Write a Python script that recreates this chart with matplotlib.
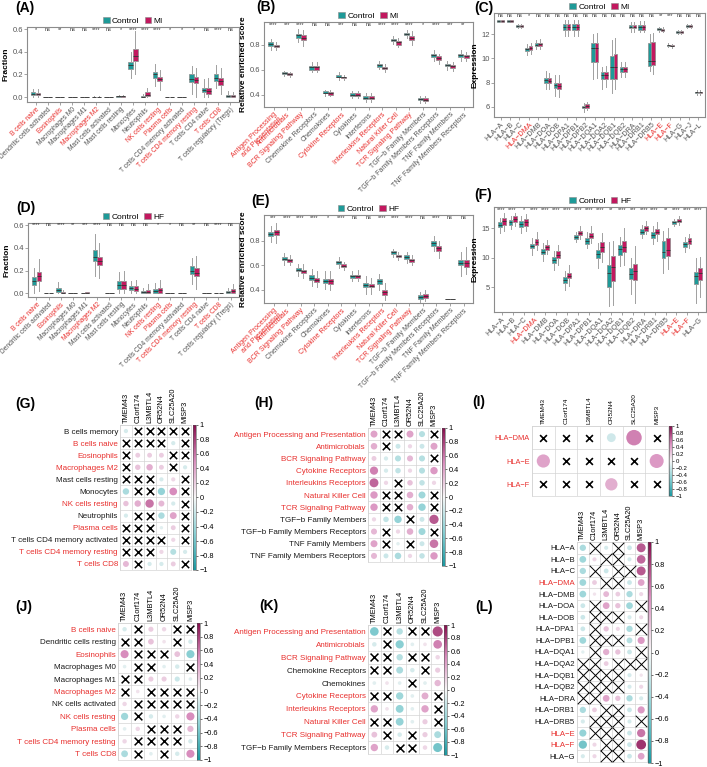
import numpy as np
import matplotlib
matplotlib.use("Agg")
import matplotlib.pyplot as plt
from matplotlib.patches import Patch
from matplotlib.colors import LinearSegmentedColormap, Normalize
from matplotlib.cm import ScalarMappable

plt.rcParams['font.family'] = ['Liberation Sans', 'DejaVu Sans']

W, H = 707, 767
CTRL = "#1E9A98"
DIS = "#C2185F"
RED = "#E8302E"
EDGE = "#8a8a8a"
CMAP = LinearSegmentedColormap.from_list(
    "corr", ["#1A98A0", "#8ACFD3", "#F7F7F7", "#D98FBE", "#850C4C"])
X = np.nan

# ---------------- box plot data: (whisker lo, q1, median, q3, whisker hi)
IMMUNE = ["B cells naive", "Dendritic cells activated", "Eosinophils", "Macrophages M0",
          "Macrophages M1", "Macrophages M2", "Mast cells activated", "Mast cells resting",
          "Monocytes", "Neutrophils", "NK cells resting", "Plasma cells",
          "T cells CD4 memory activated", "T cells CD4 memory resting",
          "T cells CD4 naive", "T cells CD8", "T cells regulatory (Tregs)"]
IMMUNE_RED = [0, 2, 5, 10, 11, 13, 15]

A_ctrl = [(0, .02, .03, .04, .07), (0, 0, 0, .001, .002), (0, 0, 0, .001, .002),
          (0, 0, 0, .001, .002), (0, 0, 0, .001, .002), (0, .001, .002, .003, .005),
          (0, 0, 0, .001, .002), (0, .003, .006, .01, .015), (.17, .25, .28, .31, .40),
          (0, -.002, .003, .012, .03), (.10, .17, .20, .22, .29), (0, 0, 0, .001, .002),
          (0, 0, 0, .001, .002), (.03, .13, .16, .20, .27), (0, .04, .06, .08, .16),
          (.08, .14, .17, .20, .28), (0, .0, .01, .02, .05)]
A_dis = [(0, .015, .025, .035, .07), (0, 0, 0, .001, .002), (0, 0, 0, .001, .002),
         (0, 0, 0, .001, .002), (0, 0, 0, .001, .002), (0, .001, .002, .003, .005),
         (0, 0, 0, .001, .002), (0, .004, .008, .012, .02), (.20, .32, .36, .42, .58),
         (0, .01, .02, .04, .08), (.06, .14, .16, .18, .24), (0, 0, 0, .001, .002),
         (0, 0, 0, .001, .002), (0, .12, .15, .18, .26), (0, .03, .05, .08, .17),
         (.03, .11, .14, .17, .26), (0, .0, .01, .02, .04)]
A_sig = ["*", "ns", "**", "ns", "ns", "****", "ns", "*", "****", "****", "****", "*",
         "*", "*", "ns", "****", "ns"]

D_ctrl = [(0, .07, .11, .14, .22), (0, 0, 0, .001, .002), (0, .015, .03, .045, .10),
          (0, 0, 0, .001, .002), (0, 0, 0, .001, .003), (.15, .28, .32, .38, .52),
          (0, 0, 0, .001, .002), (0, .04, .07, .11, .19), (0, .03, .05, .065, .11),
          (0, 0, .01, .02, .05), (0, 0, .02, .04, .09), (0, 0, 0, .001, .002),
          (0, 0, 0, .001, .002), (.08, .17, .20, .24, .31), (0, 0, 0, .001, .002),
          (0, 0, 0, .001, .002), (0, 0, .01, .02, .05)]
D_dis = [(.02, .11, .15, .19, .30), (0, 0, 0, .001, .002), (0, 0, .005, .01, .03),
         (0, 0, 0, .001, .002), (0, .002, .005, .008, .012), (.13, .25, .28, .32, .44),
         (0, 0, 0, .001, .002), (0, .04, .07, .11, .20), (0, .02, .04, .06, .12),
         (0, 0, .015, .03, .08), (0, 0, .025, .045, .12), (0, 0, 0, .001, .002),
         (0, 0, 0, .001, .002), (.04, .15, .18, .22, .33), (0, 0, 0, .001, .002),
         (0, 0, 0, .001, .002), (0, 0, .02, .035, .08)]
D_sig = ["****", "ns", "****", "**", "***", "****", "ns", "ns", "ns", "ns", "*", "*",
         "ns", "**", "ns", "****", "ns"]

PATHWAYS = ["Antigen Processing\nand Presentation", "Antimicrobials", "BCR Signaling Pathway",
            "Chemokine Receptors", "Chemokines", "Cytokine Receptors", "Cytokines",
            "Interferons", "Interleukins Receptors", "Natural Killer Cell",
            "TCR Signaling Pathway", "TGF\u2212b Family Members",
            "TGF\u2212b Family Members Receptors", "TNF Family Members",
            "TNF Family Members Receptors"]
PATHWAYS_RED = [0, 1, 2, 5, 8, 9, 10]

B_ctrl = [(.76, .79, .81, .82, .85), (.55, .565, .57, .58, .59), (.82, .86, .88, .89, .93),
          (.58, .60, .62, .63, .66), (.39, .41, .415, .425, .44), (.52, .54, .545, .555, .58),
          (.37, .39, .40, .41, .43), (.34, .365, .375, .39, .41), (.605, .625, .635, .645, .67),
          (.81, .83, .84, .85, .87), (.86, .88, .89, .90, .92), (.33, .36, .365, .375, .39),
          (.67, .70, .72, .73, .76), (.60, .63, .64, .65, .67), (.67, .70, .72, .73, .76)]
B_dis = [(.76, .78, .79, .80, .82), (.545, .56, .565, .57, .585), (.79, .84, .86, .88, .92),
         (.58, .60, .62, .63, .66), (.39, .40, .41, .42, .44), (.515, .53, .54, .545, .56),
         (.37, .39, .40, .41, .43), (.34, .365, .375, .39, .41), (.585, .605, .615, .625, .65),
         (.78, .80, .82, .83, .86), (.80, .84, .855, .87, .91), (.33, .35, .36, .37, .39),
         (.65, .68, .695, .71, .73), (.59, .615, .63, .64, .66), (.67, .695, .71, .72, .74)]
B_sig = ["****", "***", "****", "ns", "ns", "***", "ns", "ns", "****", "****", "****", "*",
         "****", "***", "**"]

E_ctrl = [(.79, .84, .855, .87, .92), (.60, .64, .655, .665, .70), (.51, .555, .565, .58, .61),
          (.43, .48, .50, .52, .57), (.41, .455, .475, .49, .55), (.58, .61, .625, .635, .67),
          (.47, .50, .51, .52, .55), (.37, .42, .44, .46, .51), (.40, .45, .47, .49, .53),
          (.67, .695, .705, .715, .73), (.62, .655, .665, .68, .71), (.30, .33, .34, .355, .38),
          (.72, .76, .78, .80, .84), (.325, .325, .325, .325, .325), (.51, .60, .62, .64, .71)]
E_dis = [(.78, .85, .87, .89, .94), (.60, .63, .64, .65, .68), (.50, .535, .55, .565, .61),
         (.42, .465, .48, .50, .55), (.40, .45, .47, .49, .55), (.56, .585, .595, .61, .63),
         (.47, .50, .51, .52, .56), (.37, .42, .435, .45, .50), (.32, .36, .38, .40, .46),
         (.64, .665, .675, .685, .71), (.60, .63, .64, .65, .68), (.31, .335, .35, .365, .40),
         (.66, .72, .74, .76, .80), (.325, .325, .325, .325, .325), (.53, .59, .62, .64, .75)]
E_sig = ["***", "****", "****", "****", "*", "****", "ns", "ns", "****", "****", "****",
         "ns", "****", "ns", "ns"]

C_GENES = ["HLA\u2212A", "HLA\u2212B", "HLA\u2212C", "HLA\u2212DMA", "HLA\u2212DMB",
           "HLA\u2212DOA", "HLA\u2212DOB", "HLA\u2212DPA1", "HLA\u2212DPB1", "HLA\u2212DPB2",
           "HLA\u2212DQA1", "HLA\u2212DQA2", "HLA\u2212DQB1", "HLA\u2212DQB2", "HLA\u2212DRA",
           "HLA\u2212DRB1", "HLA\u2212DRB5", "HLA\u2212E", "HLA\u2212F", "HLA\u2212G",
           "HLA\u2212J", "HLA\u2212L"]
C_RED = [3, 17, 18]
C_ctrl = [(13.0, 13.05, 13.1, 13.15, 13.2), (13.0, 13.05, 13.1, 13.15, 13.2),
          (12.55, 12.65, 12.7, 12.75, 12.85), (10.3, 10.6, 10.75, 10.9, 11.2),
          (10.8, 11.05, 11.15, 11.3, 11.5), (7.5, 8.0, 8.2, 8.4, 9.0), (6.9, 7.55, 7.8, 8.0, 8.6),
          (11.9, 12.35, 12.6, 12.85, 13.2), (11.9, 12.35, 12.6, 12.85, 13.2),
          (5.6, 5.9, 6.0, 6.1, 6.3), (8.3, 9.7, 10.9, 11.3, 12.0), (7.5, 8.3, 8.6, 8.9, 9.3),
          (7.1, 8.3, 9.3, 10.2, 11.5), (8.5, 8.9, 9.1, 9.3, 9.7), (12.2, 12.5, 12.65, 12.75, 13.0),
          (12.2, 12.4, 12.6, 12.8, 13.1), (9.0, 9.4, 9.8, 11.3, 12.0),
          (12.2, 12.35, 12.45, 12.5, 12.65), (10.95, 11.05, 11.1, 11.15, 11.25),
          (12.05, 12.15, 12.2, 12.25, 12.35), (12.55, 12.65, 12.7, 12.75, 12.85),
          (7.0, 7.15, 7.2, 7.25, 7.4)]
C_dis = [(13.0, 13.05, 13.1, 13.15, 13.2), (13.0, 13.05, 13.1, 13.15, 13.2),
         (12.55, 12.65, 12.7, 12.75, 12.85), (10.4, 10.7, 10.85, 11.0, 11.3),
         (10.8, 11.05, 11.2, 11.3, 11.6), (7.5, 8.0, 8.15, 8.35, 8.8), (6.8, 7.5, 7.7, 8.0, 8.6),
         (11.9, 12.35, 12.6, 12.85, 13.2), (11.9, 12.35, 12.6, 12.85, 13.2),
         (5.7, 5.9, 6.05, 6.2, 6.4), (8.4, 9.7, 10.9, 11.3, 12.1), (7.6, 8.3, 8.6, 8.9, 9.4),
         (7.5, 8.3, 9.3, 10.4, 11.7), (8.5, 8.9, 9.1, 9.3, 9.7), (12.2, 12.5, 12.65, 12.75, 13.0),
         (12.2, 12.4, 12.65, 12.8, 13.1), (8.7, 9.5, 9.8, 11.4, 12.1),
         (12.2, 12.3, 12.4, 12.45, 12.6), (10.9, 11.0, 11.05, 11.1, 11.2),
         (12.05, 12.15, 12.2, 12.25, 12.35), (12.55, 12.65, 12.7, 12.75, 12.85),
         (7.0, 7.15, 7.2, 7.25, 7.4)]
C_sig = ["ns", "ns", "ns", "*"] + ["ns"] * 13 + ["**", "***", "ns", "ns", "ns"]

F_GENES = ["HLA\u2212A", "HLA\u2212B", "HLA\u2212C", "HLA\u2212DMA", "HLA\u2212DMB",
           "HLA\u2212DOA", "HLA\u2212DOB", "HLA\u2212DPA1", "HLA\u2212DPB1", "HLA\u2212DQA1",
           "HLA\u2212DQA2", "HLA\u2212DQB1", "HLA\u2212DQB2", "HLA\u2212DRA", "HLA\u2212DRB1",
           "HLA\u2212DRB5", "HLA\u2212E", "HLA\u2212F", "HLA\u2212G"]
F_RED = [3, 16, 17]
F_ctrl = [(14.2, 15.2, 15.6, 16.1, 16.8), (14.9, 15.6, 16.0, 16.4, 17.0),
          (14.2, 15.2, 15.7, 16.2, 17.0), (10.5, 11.6, 12.0, 12.4, 13.4),
          (9.5, 10.6, 11.0, 11.5, 12.5), (8.0, 9.1, 9.6, 10.1, 11.2), (4.5, 5.8, 6.3, 6.8, 7.8),
          (12.6, 13.2, 13.5, 13.8, 14.4), (11.6, 12.4, 12.9, 13.4, 14.4),
          (8.3, 10.0, 10.6, 11.3, 12.5), (1.8, 5.1, 7.5, 8.7, 12.7), (8.6, 10.4, 11.5, 12.2, 13.6),
          (3.8, 6.4, 7.3, 8.2, 9.9), (13.3, 14.0, 14.4, 14.8, 15.5), (12.3, 13.4, 13.9, 14.3, 15.3),
          (7.5, 10.0, 11.0, 12.8, 14.6), (15.3, 15.8, 16.0, 16.2, 16.6),
          (11.0, 11.9, 12.3, 12.6, 13.6), (2.3, 5.6, 6.9, 7.6, 9.9)]
F_dis = [(14.6, 15.6, 16.2, 16.7, 17.5), (15.3, 16.0, 16.5, 17.0, 17.6),
         (14.6, 15.4, 16.0, 16.5, 17.4), (11.3, 12.2, 12.7, 13.1, 14.3),
         (10.6, 11.4, 11.8, 12.2, 13.0), (8.8, 10.0, 10.5, 11.1, 12.2), (5.3, 6.5, 6.9, 7.4, 8.8),
         (13.2, 13.9, 14.2, 14.6, 15.3), (12.5, 13.3, 13.7, 14.2, 15.3),
         (9.3, 11.0, 11.8, 12.6, 14.2), (2.0, 6.0, 8.5, 10.3, 12.8), (8.8, 10.9, 11.8, 12.8, 15.1),
         (2.3, 6.2, 7.8, 8.9, 12.0), (14.0, 14.6, 15.0, 15.4, 16.3), (12.9, 14.0, 14.4, 14.9, 16.0),
         (8.1, 10.3, 11.4, 13.4, 15.0), (15.6, 16.0, 16.3, 16.5, 17.0),
         (11.6, 12.4, 12.8, 13.3, 14.0), (3.4, 6.2, 7.5, 8.2, 10.2)]
F_sig = ["****", "****", "*", "****", "****", "****", "****", "****", "****", "****", "**",
         "****", "***", "****", "****", "**", "****", "****", "****"]

# ---------------- correlation data (nan = not significant, drawn as a cross)
GENES = ["TMEM43", "C1orf174", "L3MBTL4", "OR52N4", "SLC25A20", "MISP3"]
CB_TICKS = [-1, -0.8, -0.6, -0.4, -0.2, 0, 0.2, 0.4, 0.6, 0.8, 1]

G_rows = ["B cells memory", "B cells naive", "Eosinophils", "Macrophages M2",
          "Mast cells resting", "Monocytes", "NK cells resting", "Neutrophils", "Plasma cells",
          "T cells CD4 memory activated", "T cells CD4 memory resting", "T cells CD8"]
G_red = [1, 2, 3, 6, 8, 10, 11]
G_r = [[-0.15, X, X, X, X, X],
       [X, X, X, X, -0.15, X],
       [X, 0.2, 0.2, 0.2, X, X],
       [X, 0.25, 0.35, 0.2, X, -0.15],
       [X, X, X, -0.15, 0.15, X],
       [-0.35, X, X, -0.45, 0.5, X],
       [0.25, 0.35, 0.6, 0.3, -0.15, X],
       [-0.15, X, X, -0.35, 0.4, X],
       [X, X, X, -0.1, 0.2, X],
       [X, X, X, X, 0.15, X],
       [X, X, X, 0.15, -0.3, -0.15],
       [0.3, X, -0.15, -0.15, 0.2, X]]

H_rows = ["Antigen Processing and Presentation", "Antimicrobials", "BCR Signaling Pathway",
          "Cytokine Receptors", "Interleukins Receptors", "Natural Killer Cell",
          "TCR Signaling Pathway", "TGF\u2212b Family Members",
          "TGF\u2212b Family Members Receptors", "TNF Family Members",
          "TNF Family Members Receptors"]
H_red = [0, 1, 2, 3, 4, 5, 6]
H_r = [[0.4, X, X, 0.4, -0.3, X],
       [0.35, X, -0.2, 0.15, -0.2, 0.4],
       [0.2, -0.15, -0.3, 0.3, -0.3, X],
       [0.55, -0.15, -0.25, 0.15, -0.3, 0.45],
       [0.65, 0.15, X, 0.25, -0.25, 0.15],
       [0.45, X, X, 0.35, -0.4, X],
       [0.45, X, X, 0.35, -0.45, X],
       [0.15, -0.25, -0.45, X, -0.2, 0.7],
       [0.3, X, 0.15, 0.35, -0.4, X],
       [0.4, X, -0.1, X, -0.2, 0.6],
       [0.3, -0.2, -0.35, 0.15, -0.25, 0.45]]

I_rows = ["HLA\u2212DMA", "HLA\u2212E", "HLA\u2212F"]
I_red = [0, 1, 2]
I_r = [[X, X, X, -0.18, 0.55, X],
       [0.4, X, X, X, X, 0.45],
       [X, X, X, 0.35, X, X]]

J_rows = ["B cells naive", "Dendritic cells resting", "Eosinophils", "Macrophages M0",
          "Macrophages M1", "Macrophages M2", "NK cells activated", "NK cells resting",
          "Plasma cells", "T cells CD4 memory resting", "T cells CD8"]
J_red = [0, 2, 5, 7, 8, 9, 10]
J_r = [[-0.15, X, 0.2, 0.15, X, X],
       [X, X, 0.25, 0.1, X, -0.15],
       [0.5, X, X, X, 0.25, -0.5],
       [-0.1, X, X, -0.1, -0.15, X],
       [X, X, 0.2, 0.2, -0.2, -0.1],
       [X, 0.1, X, X, X, X],
       [0.15, X, X, X, X, X],
       [-0.4, X, -0.15, -0.1, 0.15, 0.5],
       [-0.1, 0.15, X, X, X, 0.3],
       [0.15, X, X, X, X, -0.15],
       [-0.35, X, -0.1, X, -0.15, 0.5]]

K_rows = ["Antigen Processing and Presentation", "Antimicrobials", "BCR Signaling Pathway",
          "Chemokine Receptors", "Chemokines", "Cytokine Receptors", "Interleukins Receptors",
          "Natural Killer Cell", "TCR Signaling Pathway", "TGF\u2212b Family Members Receptors"]
K_red = [0, 1, 2, 5, 6, 7, 8]
K_r = [[-0.55, X, -0.3, X, X, 0.75],
       [-0.15, X, -0.5, -0.1, 0.1, 0.55],
       [X, X, -0.3, X, X, 0.15],
       [X, X, -0.35, -0.15, X, 0.2],
       [-0.1, 0.1, -0.1, X, -0.1, 0.3],
       [X, X, -0.4, -0.1, 0.35, X],
       [0.4, 0.1, -0.45, -0.1, 0.4, X],
       [X, X, -0.45, -0.1, 0.2, X],
       [0.25, X, -0.15, X, 0.2, -0.35],
       [0.4, -0.15, X, X, 0.15, -0.6]]

L_rows = ["HLA\u2212A", "HLA\u2212B", "HLA\u2212C", "HLA\u2212DMA", "HLA\u2212DMB",
          "HLA\u2212DOA", "HLA\u2212DOB", "HLA\u2212DPA1", "HLA\u2212DPB1", "HLA\u2212DQA1",
          "HLA\u2212DQA2", "HLA\u2212DQB1", "HLA\u2212DQB2", "HLA\u2212DRA", "HLA\u2212DRB1",
          "HLA\u2212DRB5", "HLA\u2212E", "HLA\u2212F", "HLA\u2212G"]
L_red = [3, 16, 17]
L_r = [[-0.35, X, -0.15, X, -0.2, 0.7],
       [-0.4, 0.15, X, X, -0.15, 0.65],
       [-0.35, X, -0.2, X, X, 0.7],
       [-0.4, 0.2, X, X, -0.2, 0.4],
       [-0.4, 0.1, 0.3, 0.2, -0.35, 0.15],
       [-0.2, X, 0.4, 0.25, -0.4, X],
       [-0.2, X, X, X, -0.15, 0.15],
       [-0.2, X, 0.25, 0.15, -0.35, X],
       [-0.4, X, X, X, -0.3, 0.45],
       [-0.1, X, 0.35, 0.25, -0.2, X],
       [X, X, 0.2, X, X, X],
       [X, X, X, X, -0.15, 0.1],
       [X, X, X, X, -0.15, 0.15],
       [X, X, 0.4, 0.25, -0.35, -0.15],
       [-0.35, 0.2, X, X, -0.2, 0.45],
       [-0.15, X, X, X, -0.15, X],
       [-0.45, X, X, X, -0.2, 0.6],
       [-0.6, 0.15, X, X, -0.2, 0.85],
       [-0.15, 0.15, X, X, -0.2, 0.4]]

fig = plt.figure(figsize=(W / 100, H / 100), dpi=100)


def px_rect(x0, y0, x1, y1):
    return [x0 / W, 1 - y1 / H, (x1 - x0) / W, (y1 - y0) / H]


def panel_label(x, y, s):
    fig.text(x / W, 1 - y / H, s, fontsize=10, fontweight="bold", ha="left", va="center")


def box_panel(box, cats, red, ctrl, dis, sig, dis_name, ylim, yticks, ylabel, sig_y,
              lab_fs=5.0):
    ax = fig.add_axes(px_rect(*box))
    n = len(cats)
    stats, pos, cols = [], [], []
    for i in range(n):
        for off, vals, col in ((-0.19, ctrl[i], CTRL), (0.19, dis[i], DIS)):
            lo, q1, med, q3, hi = vals
            stats.append(dict(whislo=lo, q1=q1, med=med, q3=q3, whishi=hi, fliers=[]))
            pos.append(i + off)
            cols.append(col)
    bp = ax.bxp(stats, positions=pos, widths=0.36, patch_artist=True, showcaps=False,
                boxprops=dict(linewidth=0.5, edgecolor=EDGE),
                whiskerprops=dict(linewidth=0.7, color="#a0a0a0"),
                medianprops=dict(linewidth=0.6, color="#333333"))
    for p, c in zip(bp["boxes"], cols):
        p.set_facecolor(c)
    for i, s in enumerate(sig):
        ax.text(i, sig_y, s, ha="center", va="center", fontsize=4, color="#333333")
    ax.set_xlim(-0.7, n - 0.3)
    ax.set_ylim(*ylim)
    ax.set_yticks(yticks)
    ax.tick_params(length=2, width=0.5, color="#7f7f7f", labelsize=5.5,
                   labelcolor="#555555", pad=1)
    ax.set_xticks(range(n))
    ax.set_xticklabels(cats, rotation=45, ha="right", rotation_mode="anchor",
                       fontsize=lab_fs, linespacing=0.9)
    for i, t in enumerate(ax.get_xticklabels()):
        t.set_color(RED if i in red else "#555555")
    for sp in ax.spines.values():
        sp.set_color("#8c8c8c")
        sp.set_linewidth(0.8)
    ax.set_ylabel(ylabel, fontsize=6, fontweight="bold", labelpad=2)
    handles = [Patch(facecolor=CTRL, edgecolor=EDGE, linewidth=0.4),
               Patch(facecolor=DIS, edgecolor=EDGE, linewidth=0.4)]
    ax.legend(handles, ["Control", dis_name], loc="lower center", bbox_to_anchor=(0.5, 1.0),
              ncol=2, frameon=False, fontsize=6, handlelength=0.8, handleheight=0.8,
              columnspacing=0.6, handletextpad=0.3, borderpad=0.1, borderaxespad=0.15)
    return ax


def corr_panel(grid, cbar, rows, red, r, xsize, xlw, row_fs, col_fs, cb_fs):
    ax = fig.add_axes(px_rect(*grid))
    r = np.array(r, dtype=float)
    nr, nc = r.shape
    cell_pt = min((grid[2] - grid[0]) / nc, (grid[3] - grid[1]) / nr) * 0.72
    for k in range(nr + 1):
        ax.axhline(k, color="#d4d4d4", lw=0.5, zorder=0)
    for k in range(nc + 1):
        ax.axvline(k, color="#d4d4d4", lw=0.5, zorder=0)
    ii, jj = np.nonzero(~np.isnan(r))
    vals = r[ii, jj]
    ax.scatter(jj + 0.5, ii + 0.5, s=(cell_pt * 0.92 * np.sqrt(np.abs(vals))) ** 2,
               c=vals, cmap=CMAP, vmin=-1, vmax=1, linewidths=0, zorder=2)
    xi, xj = np.nonzero(np.isnan(r))
    ax.scatter(xj + 0.5, xi + 0.5, marker="x", s=(cell_pt * xsize) ** 2, c="black",
               linewidths=xlw, zorder=3)
    ax.set_xlim(0, nc)
    ax.set_ylim(nr, 0)
    ax.set_xticks(np.arange(nc) + 0.5)
    ax.set_xticklabels(GENES, rotation=90, fontsize=col_fs)
    ax.xaxis.tick_top()
    ax.set_yticks(np.arange(nr) + 0.5)
    ax.set_yticklabels(rows, fontsize=row_fs)
    for i, t in enumerate(ax.get_yticklabels()):
        t.set_color(RED if i in red else "#1a1a1a")
    ax.tick_params(length=0, pad=1.5)
    for sp in ax.spines.values():
        sp.set_color("#d4d4d4")
        sp.set_linewidth(0.5)
    cax = fig.add_axes(px_rect(*cbar))
    cb = fig.colorbar(ScalarMappable(norm=Normalize(-1, 1), cmap=CMAP), cax=cax)
    cb.set_ticks(CB_TICKS)
    cb.set_ticklabels([("%g" % v).replace("-", "\u2212") for v in CB_TICKS])
    cb.outline.set_linewidth(0.4)
    cb.outline.set_edgecolor("#555555")
    cax.tick_params(labelsize=cb_fs, length=1.5, width=0.4, pad=1)
    return ax


# ---------------- box panels
box_panel((27, 27, 239, 102), IMMUNE, IMMUNE_RED, A_ctrl, A_dis, A_sig, "MI",
          (-0.044, 0.618), [0.0, 0.2, 0.4, 0.6], "Fraction", 0.598, lab_fs=4.8)
box_panel((264, 22, 473, 107), PATHWAYS, PATHWAYS_RED, B_ctrl, B_dis, B_sig, "MI",
          (0.30, 0.985), [0.4, 0.6, 0.8], "Relative enriched score", 0.965, lab_fs=5.0)
box_panel((494, 13, 705, 117), C_GENES, C_RED, C_ctrl, C_dis, C_sig, "MI",
          (5.15, 13.77), [6, 8, 10, 12], "Expression", 13.55, lab_fs=5.2)
box_panel((28, 223, 239, 297), IMMUNE, IMMUNE_RED, D_ctrl, D_dis, D_sig, "HF",
          (-0.033, 0.618), [0.0, 0.2, 0.4, 0.6], "Fraction", 0.605, lab_fs=4.8)
box_panel((264, 215, 473, 303), PATHWAYS, PATHWAYS_RED, E_ctrl, E_dis, E_sig, "HF",
          (0.294, 1.009), [0.4, 0.6, 0.8], "Relative enriched score", 0.985, lab_fs=5.0)
box_panel((494, 207, 706, 312), F_GENES, F_RED, F_ctrl, F_dis, F_sig, "HF",
          (0.82, 18.6), [5, 10, 15], "Expression", 18.25, lab_fs=5.2)

# ---------------- correlation panels
corr_panel((120, 425, 191, 570), (193, 425, 196, 570), G_rows, G_red, G_r,
           0.62, 1.1, 5.8, 5.3, 5.3)
corr_panel((368, 428, 440, 562), (442, 428, 445, 566), H_rows, H_red, H_r,
           0.62, 1.1, 5.8, 5.3, 5.3)
corr_panel((532, 426, 668, 496), (669, 426, 672, 496), I_rows, I_red, I_r,
           0.3, 1.2, 5.3, 4.6, 4.3)
corr_panel((118, 623, 197, 760), (197, 623, 200, 760), J_rows, J_red, J_r,
           0.62, 1.1, 5.8, 5.3, 5.3)
corr_panel((368, 625, 444, 754), (444, 625, 447, 755), K_rows, K_red, K_r,
           0.62, 1.1, 5.8, 5.3, 5.3)
corr_panel((577, 542, 647, 762), (648, 542, 651, 763), L_rows, L_red, L_r,
           1.0, 0.7, 5.6, 5.3, 5.3)

for x, y, s in [(15, 8, "(A)"), (256, 7, "(B)"), (474, 8, "(C)"), (16, 208, "(D)"),
                (251, 201, "(E)"), (474, 195, "(F)"), (15, 404, "(G)"), (254, 403, "(H)"),
                (472, 402, "(I)"), (15, 607, "(J)"), (259, 606, "(K)"), (475, 607, "(L)")]:
    panel_label(x, y, s)

fig.savefig("out.png", dpi=100)
